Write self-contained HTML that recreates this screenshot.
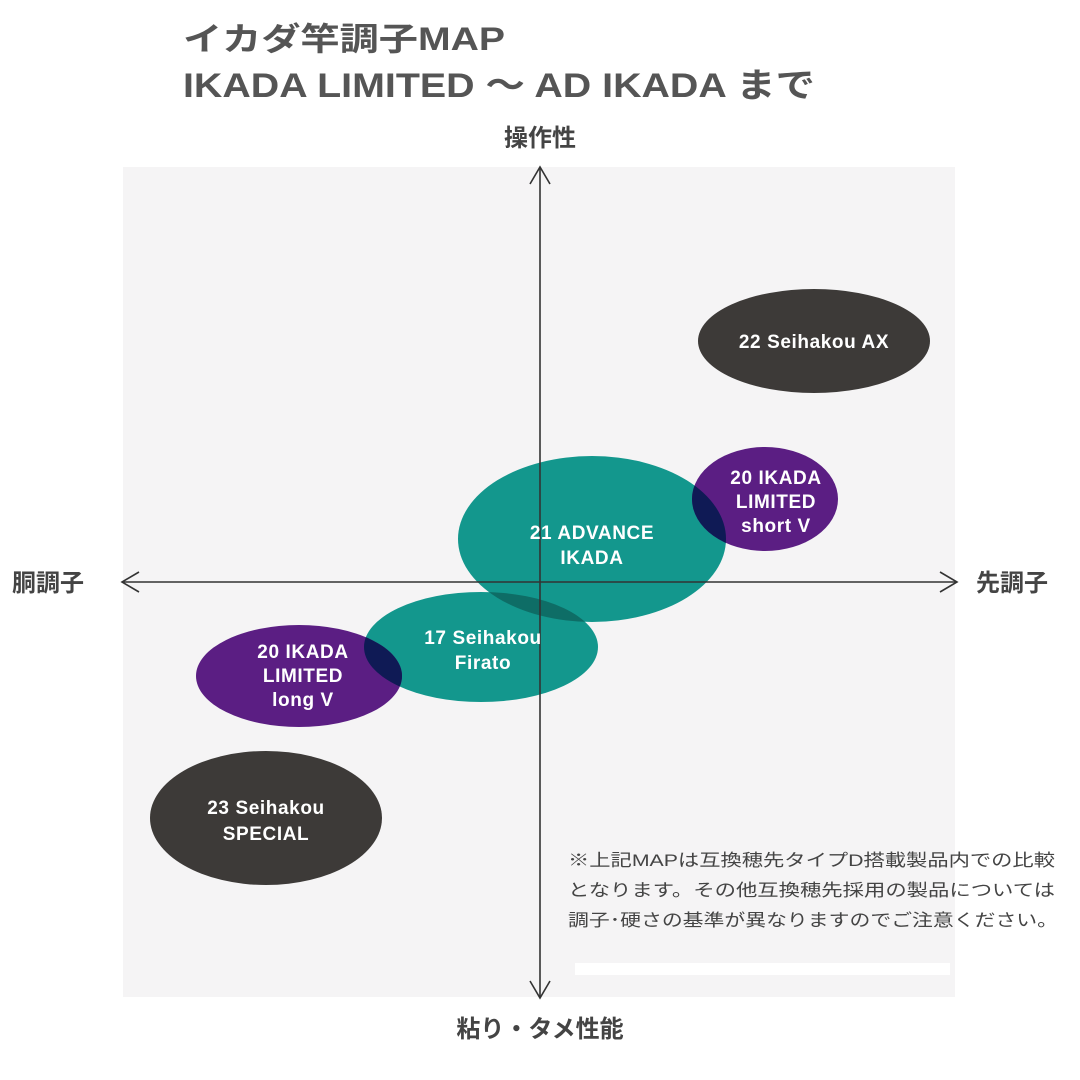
<!DOCTYPE html>
<html><head><meta charset="utf-8"><style>
html,body{margin:0;padding:0;background:#fff;}
svg{display:block;}
</style></head><body>
<svg width="1080" height="1080" viewBox="0 0 1080 1080" xmlns="http://www.w3.org/2000/svg" font-family="'Liberation Sans','Noto Sans CJK JP',sans-serif">
<defs>
<clipPath id="cAdv"><ellipse cx="592" cy="539" rx="134" ry="83"/></clipPath>
<clipPath id="cFir"><ellipse cx="481" cy="647" rx="117" ry="55"/></clipPath>
</defs>
<rect x="0" y="0" width="1080" height="1080" fill="#fff"/>
<rect x="123" y="167" width="832" height="830" fill="#f5f4f5"/>
<rect x="575" y="963" width="375" height="12" fill="#fff"/>
<text x="183" y="50" font-size="32" font-weight="bold" fill="#555" textLength="322" lengthAdjust="spacingAndGlyphs">イカダ竿調子MAP</text>
<text x="183" y="97" font-size="34" font-weight="bold" fill="#555" textLength="632" lengthAdjust="spacingAndGlyphs">IKADA LIMITED ～ AD IKADA まで</text>
<text x="540" y="146" font-size="24" font-weight="bold" fill="#444" text-anchor="middle">操作性</text>
<text x="540" y="1037" font-size="24" font-weight="bold" fill="#444" text-anchor="middle">粘り・タメ性能</text>
<text x="12" y="591" font-size="24" font-weight="bold" fill="#444">胴調子</text>
<text x="976" y="591" font-size="24" font-weight="bold" fill="#444">先調子</text>

<ellipse cx="814" cy="341" rx="116" ry="52" fill="#3d3a38"/>
<ellipse cx="266" cy="818" rx="116" ry="67" fill="#3d3a38"/>
<ellipse cx="592" cy="539" rx="134" ry="83" fill="#13978d"/>
<ellipse cx="481" cy="647" rx="117" ry="55" fill="#13978d"/>
<ellipse cx="765" cy="499" rx="73" ry="52" fill="#5b1e83"/>
<ellipse cx="299" cy="676" rx="103" ry="51" fill="#5b1e83"/>
<ellipse cx="481" cy="647" rx="117" ry="55" fill="#0e6d66" clip-path="url(#cAdv)"/>
<ellipse cx="765" cy="499" rx="73" ry="52" fill="#0f1a55" clip-path="url(#cAdv)"/>
<ellipse cx="299" cy="676" rx="103" ry="51" fill="#0f1a55" clip-path="url(#cFir)"/>

<g stroke="#333" stroke-width="1.6" fill="none">
<line x1="540" y1="167" x2="540" y2="998"/>
<line x1="122" y1="582" x2="957" y2="582"/>
<polyline points="530,184 540,167 550,184"/>
<polyline points="530,981 540,998 550,981"/>
<polyline points="139,572 122,582 139,592"/>
<polyline points="940,572 957,582 940,592"/>
</g>

<g fill="#fff" font-size="19" font-weight="bold" text-anchor="middle" letter-spacing="0.6">
<text x="814" y="348">22 Seihakou AX</text>
<text x="266" y="814">23 Seihakou</text>
<text x="266" y="840">SPECIAL</text>
<text x="592" y="539">21 ADVANCE</text>
<text x="592" y="564">IKADA</text>
<text x="483" y="644">17 Seihakou</text>
<text x="483" y="669">Firato</text>
<text x="776" y="484">20 IKADA</text>
<text x="776" y="508">LIMITED</text>
<text x="776" y="532">short V</text>
<text x="303" y="658">20 IKADA</text>
<text x="303" y="682">LIMITED</text>
<text x="303" y="706">long V</text>
</g>

<g fill="#444" font-size="17">
<text x="568" y="866" textLength="487" lengthAdjust="spacingAndGlyphs">※上記MAPは互換穂先タイプD搭載製品内での比較</text>
<text x="568" y="896" textLength="487" lengthAdjust="spacingAndGlyphs">となります。その他互換穂先採用の製品については</text>
<text x="568" y="926" textLength="490" lengthAdjust="spacingAndGlyphs">調子･硬さの基準が異なりますのでご注意ください。</text>
</g>
</svg>
</body></html>
